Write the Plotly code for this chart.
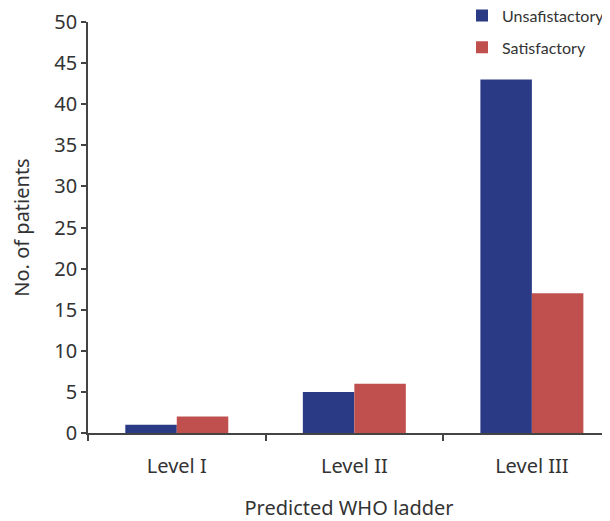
import plotly.graph_objects as go

categories = ["Level I", "Level II", "Level III"]
unsatisfactory = [1, 5, 43]
satisfactory = [2, 6, 17]
series_names = ["Unsafistactory", "Satisfactory"]
y_ticks = [0, 5, 10, 15, 20, 25, 30, 35, 40, 45, 50]

FONT = "Noto Sans"
TXT = "#333333"
AX = "#444444"

fig = go.Figure()
fig.add_trace(go.Bar(x=categories, y=unsatisfactory, name=series_names[0],
                     marker=dict(color="#2B3A85", line=dict(width=0)),
                     legendgroup="a"))
fig.add_trace(go.Bar(x=categories, y=satisfactory, name=series_names[1],
                     marker=dict(color="#C0504E", line=dict(width=0)),
                     legendgroup="b"))

# page body has an 8px margin, so the figure is sized/offset to compensate
fig.update_layout(
    width=602, height=513,
    margin=dict(l=80, r=0, t=14, b=88, autoexpand=False),
    plot_bgcolor="white", paper_bgcolor="white",
    font=dict(family=FONT, color=TXT),
    barmode="group", bargap=0.42, bargroupgap=0,
    showlegend=True,
    legend=dict(x=1.0, y=1.057, xanchor="right", yanchor="top",
                font=dict(size=16, family="Lato", color=TXT),
                bgcolor="rgba(0,0,0,0)", traceorder="grouped",
                tracegroupgap=8, itemwidth=30),
    xaxis=dict(
        range=[-0.5, 2.44],
        showline=True, linecolor=AX, linewidth=1.5,
        ticks="outside", tickson="boundaries", ticklen=6, tickcolor=AX, tickwidth=1.5,
        tickfont=dict(size=20, family=FONT, color=TXT),
        ticklabelstandoff=14,
        title=dict(text="Predicted WHO ladder", font=dict(size=20, family=FONT, color=TXT), standoff=26),
        showgrid=False, zeroline=False,
    ),
    yaxis=dict(
        range=[0, 50], tickvals=y_ticks,
        showline=True, linecolor=AX, linewidth=1.5,
        ticks="outside", ticklen=5, tickcolor=AX, tickwidth=1.5,
        tickfont=dict(size=20, family=FONT, color=TXT),
        title=dict(text="No. of patients", font=dict(size=20, family=FONT, color=TXT), standoff=20),
        showgrid=False, zeroline=False,
    ),
)

fig.write_html("out.html")
